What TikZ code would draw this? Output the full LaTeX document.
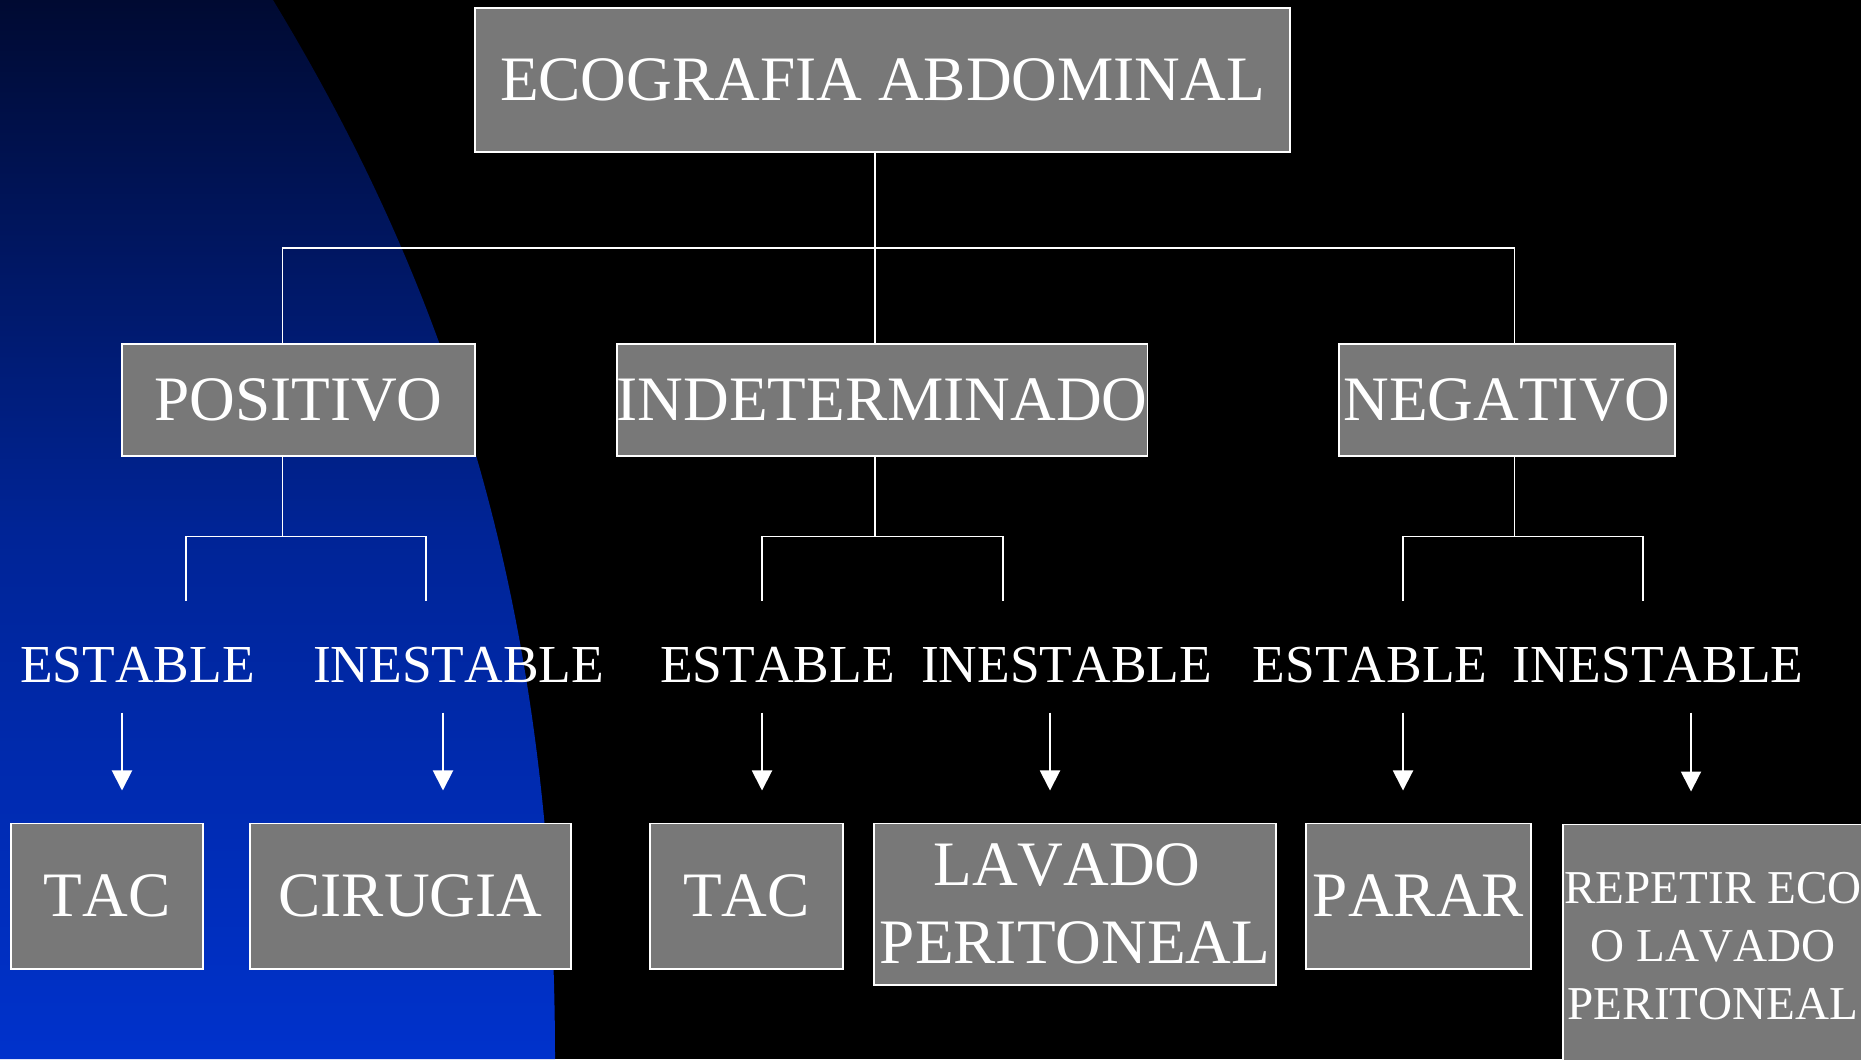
\documentclass[tikz,border=0pt]{standalone}
\usepackage{fontspec}
\setmainfont{Liberation Serif}[Kerning=Off]
\usetikzlibrary{arrows.meta}

\definecolor{cajagris}{RGB}{120,120,120}
\definecolor{azularriba}{RGB}{0,10,50}
\definecolor{azulmedio}{RGB}{0,36,150}
\definecolor{azulabajo}{RGB}{0,50,204}

\tikzset{
  caja/.style={draw=white, line width=0.55pt, fill=cajagris, text=white, inner sep=0pt, align=center},
  rama/.style={white, line width=0.55pt},
  flecha/.style={white, line width=0.55pt, -{Triangle[width=2mm,length=2mm]}, shorten <=2.9mm, shorten >=3.2mm},
  estado/.style={text=white, inner sep=0pt, font=\fontsize{15.2}{18}\selectfont},
  grande/.style={font=\fontsize{18}{22}\selectfont},
}

\begin{document}
\begin{tikzpicture}[x=0.01cm, y=-0.01cm]
\useasboundingbox (0,0) rectangle (1861,1059);
\fill[black] (0,0) rectangle (1861,1059);
\shade[top color=azularriba, bottom color=azulabajo, middle color=azulmedio]
  (0,0) -- (273,0) .. controls (455,300) and (555,620) .. (555,1059) -- (0,1059) -- cycle;

\node[caja, grande, minimum width=8.15cm, minimum height=1.44cm] (eco) at (882.5,80) {ECOGRAFIA ABDOMINAL};

\node[caja, grande, minimum width=3.53cm, minimum height=1.12cm] (pos) at (298.5,400) {POSITIVO};
\node[caja, grande, minimum width=5.28cm, minimum height=1.12cm] (ind) at (882,400) {INDETERMINADO};
\node[caja, grande, minimum width=3.36cm, minimum height=1.12cm] (neg) at (1507,400) {NEGATIVO};

\node[estado] (e1) at (137.5,665) {ESTABLE};
\node[estado] (i1) at (458.5,665) {INESTABLE};
\node[estado] (e2) at (777.5,665) {ESTABLE};
\node[estado] (i2) at (1066.5,665) {INESTABLE};
\node[estado] (e3) at (1370,665) {ESTABLE};
\node[estado] (i3) at (1658,665) {INESTABLE};

\node[caja, grande, minimum width=1.92cm, minimum height=1.45cm] (tac1) at (107,896) {TAC};
\node[caja, grande, minimum width=3.2cm, minimum height=1.45cm] (cir) at (410.5,896) {CIRUGIA};
\node[caja, grande, minimum width=1.93cm, minimum height=1.45cm] (tac2) at (746.5,896) {TAC};
\node[caja, grande, minimum width=4.01cm, minimum height=1.61cm] (lav) at (1075,904) {LAVADO\hspace*{.25em}\\PERITONEAL};
\node[caja, grande, minimum width=2.25cm, minimum height=1.45cm] (par) at (1418.5,896) {PARAR};
\node[caja, anchor=north west, minimum width=3.05cm, minimum height=2.7cm] (rep) at (1562,823.5) {};
\node[text=white, align=center, inner sep=0pt, font=\fontsize{13.4}{16.5}\selectfont] (reptxt) at (1713,946) {REPETIR ECO\\O LAVADO\\PERITONEAL};

\coordinate (cp) at (282.5,248);
\coordinate (ci) at (875,248);
\coordinate (cn) at (1514.5,248);
\draw[rama] (eco.south -| ci) -- (ci) -- (ind.north -| ci);
\draw[rama] (pos.north -| cp) -- (cp) -- (cn) -- (neg.north -| cn);

\foreach \n/\xm/\xl/\xr in {pos/282.5/186/426, ind/875/762/1003, neg/1514.5/1403/1643}{
  \coordinate (m) at (\xm,536.5);
  \coordinate (l) at (\xl,600.5);
  \coordinate (r) at (\xr,600.5);
  \draw[rama] (\n.south -| m) -- (m);
  \draw[rama] (l) |- (m) -| (r);
}

\foreach \e/\b/\x in {e1/tac1/122, i1/cir/443, e2/tac2/762, i2/lav/1050, e3/par/1403, i3/rep/1691}{
  \coordinate (ax) at (\x,0);
  \draw[flecha] (\e.south -| ax) -- (\b.north -| ax);
}
\end{tikzpicture}
\end{document}
